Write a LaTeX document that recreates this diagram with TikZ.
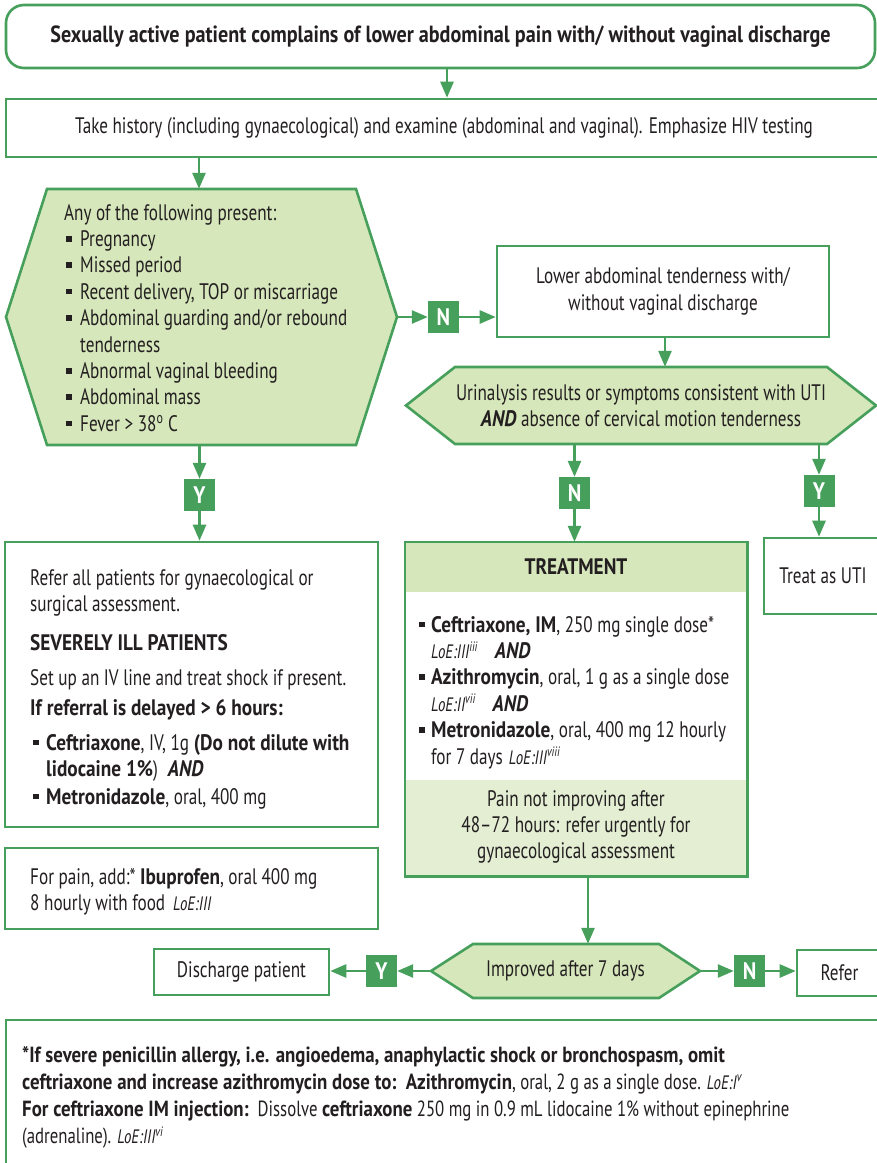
\documentclass[tikz,border=0pt]{standalone}
\usepackage{fontspec}
\setmainfont{PT Sans}[UprightFeatures={FakeStretch=0.765}, ItalicFeatures={FakeStretch=0.765}, BoldFeatures={FakeStretch=0.86}, BoldItalicFeatures={FakeStretch=0.86}]
\usetikzlibrary{arrows.meta,calc}
\definecolor{gr}{RGB}{70,160,92}
\definecolor{lf}{RGB}{214,231,187}
\definecolor{lf2}{RGB}{227,238,211}
\definecolor{tx}{RGB}{35,31,32}
\newcommand\bul[1][14bp]{\makebox[#1][l]{\raisebox{5bp}{\rule{5.5bp}{5.5bp}}}}
\newcommand\loe[1]{{\fontsize{19.5}{19.5}\selectfont\itshape #1}}
\begin{document}
\begin{tikzpicture}[x=1bp,y=-1bp,
  font=\fontsize{22.5}{26.5}\selectfont, text=tx,
  box/.style={draw=gr, line width=2.6bp, fill=white, inner sep=0},
  yn/.style={fill=gr, text=white, font=\fontsize{24}{24}\selectfont\bfseries, minimum width=31bp, minimum height=32bp, inner sep=0},
  arr/.style={draw=gr, line width=2.6bp, -{Triangle[length=16bp,width=13bp]}},
  txt/.style={inner sep=0, anchor=north west, align=left},
  hexa/.style={draw=gr, fill=lf, line width=2.6bp, line join=miter},
  area/.style={inner sep=0, draw=none}
]
\useasboundingbox (0,0) rectangle (877,1163);
\fill[white] (0,0) rectangle (877,1163);

% top
\node[box, rounded corners=18bp, minimum width=869bp, minimum height=63bp, font=\fontsize{23.5}{26.5}\selectfont\bfseries] (start) at (440.5,36.5) {Sexually active patient complains of lower abdominal pain with/ without vaginal discharge};
\node[box, minimum width=876bp, minimum height=58bp] (hist) at (444,128) {Take history (including gynaecological) and examine (abdominal and vaginal). Emphasize HIV testing};
\draw[arr] ([xshift=6.5bp]start.south) -- ([xshift=6.5bp]start.south |- hist.north);

% hexagon A
\filldraw[hexa] (6,317) -- (47,189) -- (356,189) -- (397,317) -- (356,445) -- (47,445) -- cycle;
\node[area, minimum width=391bp, minimum height=256bp] (hexA) at (201.5,317) {};
\draw[arr] ([xshift=-2.5bp]hexA.north |- hist.south) -- ([xshift=-2.5bp]hexA.north);
\node[txt] (hexAtxt) at (64,201.45) {\strut Any of the following present:\\
\hspace*{2bp}\bul Pregnancy\\
\hspace*{2bp}\bul Missed period\\
\hspace*{2bp}\bul Recent delivery, TOP or miscarriage\\
\hspace*{2bp}\bul Abdominal guarding and/or rebound\\
\hspace*{16bp}tenderness\\
\hspace*{2bp}\bul Abnormal vaginal bleeding\\
\hspace*{2bp}\bul Abdominal mass\\
\hspace*{2bp}\bul Fever > 38\textsuperscript{o} C};

% N to right
\node[yn] (nA) at (443.5,317) {N};
\node[box, minimum width=332bp, minimum height=91bp, align=center] (lower) at (663,291.5) {Lower abdominal tenderness with/\\without vaginal discharge};
\draw[arr] (hexA.east) -- (nA.west);
\draw[arr] (nA.east) -- (nA.east -| lower.west);

% hexagon B
\filldraw[hexa] (406,405.5) -- (455,367) -- (827,367) -- (876,405.5) -- (827,444) -- (455,444) -- cycle;
\node[area, minimum width=470bp, minimum height=77bp, align=center] (hexB) at (641,405.5) {Urinalysis results or symptoms consistent with UTI\\\textbf{\textit{AND}} absence of cervical motion tenderness};
\draw[arr] ([xshift=2bp]lower.south) -- ([xshift=2bp]lower.south |- hexB.north);

% treatment
\node[area, minimum width=342bp, minimum height=334bp] (treat) at (576,709) {};
\fill[lf] (treat.north west) rectangle ($(treat.north east)+(0,50)$);
\fill[lf2] ($(treat.south west)+(0,-96)$) rectangle (treat.south east);
\draw[gr, line width=2.6bp] (treat.north west) rectangle (treat.south east);
\node[font=\fontsize{22.5}{26.5}\selectfont\bfseries] (treathead) at (576,567) {TREATMENT};
\node[txt] (treatlist) at (419,613.45) {\strut\bul[12bp]\textbf{Ceftriaxone, IM}, 250 mg single dose*\\
\hspace*{12bp}\loe{LoE:III\textsuperscript{iii}}\hspace{17bp}\textbf{\textit{AND}}\\
\bul[12bp]\textbf{Azithromycin}, oral, 1 g as a single dose\\
\hspace*{12bp}\loe{LoE:II\textsuperscript{vii}}\hspace{17bp}\textbf{\textit{AND}}\\
\bul[12bp]\textbf{Metronidazole}, oral, 400 mg 12 hourly\\
\hspace*{12bp}for 7 days\hspace{6bp}\loe{LoE:III\textsuperscript{viii}}};
\node[align=center, inner sep=0] (treatfoot) at (576,827) {Pain not improving after\\48--72 hours: refer urgently for\\gynaecological assessment};

% UTI
\node[box, minimum width=118bp, minimum height=76bp] (uti) at (823,576) {Treat as UTI};

% N and Y below hexagon B
\node[yn] (nB) at (574.5,493) {N};
\node[yn] (yB) at (819,491) {Y};
\draw[arr] (hexB.south -| nB) -- (nB.north);
\draw[arr] (nB.south) -- (nB |- treat.north);
\draw[arr] (hexB.south -| yB) -- (yB.north);
\draw[arr] (yB.south) -- (yB |- uti.north);

% left refer box
\node[box, minimum width=373bp, minimum height=285bp] (refer) at (191.5,684.5) {};
\node[yn] (yA) at (199.5,495) {Y};
\draw[arr] ([xshift=-2bp]hexA.south) -- (yA.north);
\draw[arr] (yA.south) -- (yA |- refer.north);
\node[txt] (refertxt) at (30,566.45) {\strut Refer all patients for gynaecological or\\
surgical assessment.\\[12.5bp]
\textbf{SEVERELY ILL PATIENTS}\\[8.5bp]
Set up an IV line and treat shock if present.\\[3.5bp]
\textbf{If referral is delayed > 6 hours:}\\[8.5bp]
\hspace*{3bp}\bul[13bp]\textbf{Ceftriaxone}, IV, 1g \textbf{(Do not dilute with}\\
\hspace*{16bp}\textbf{lidocaine 1\%})\hspace{10bp}\textbf{\textit{AND}}\\[1.5bp]
\hspace*{3bp}\bul[13bp]\textbf{Metronidazole}, oral, 400 mg};

% ibuprofen
\node[box, minimum width=373bp, minimum height=81bp] (ibu) at (191.5,888.5) {};
\node[txt] (ibutxt) at (30,865.45) {\strut For pain, add:* \textbf{Ibuprofen}, oral 400 mg\\
8 hourly with food\hspace{8bp}\loe{LoE:III}};

% bottom row
\filldraw[hexa] (431,971) -- (473,944) -- (659,944) -- (700,971) -- (659,998) -- (473,998) -- cycle;
\node[area, minimum width=269bp, minimum height=54bp] (hexC) at (565.5,971) {Improved after 7 days};
\draw[arr] ([xshift=12bp]treat.south) -- ([xshift=12bp]treat.south |- hexC.north);
\node[yn] (yC) at (381.5,971) {Y};
\node[yn] (nC) at (749.5,971) {N};
\node[box, minimum width=175bp, minimum height=46bp] (dis) at (241.5,972) {Discharge patient};
\node[box, minimum width=85bp, minimum height=46bp] (referb) at (839.5,973) {Refer};
\draw[arr] (hexC.west) -- (yC.east);
\draw[arr] (yC.west) -- (yC.west -| dis.east);
\draw[arr] (hexC.east) -- (nC.west);
\draw[arr] (nC.east) -- (nC.east -| referb.west);

% footnote
\node[box, minimum width=876bp, minimum height=150bp] (foot) at (444,1095) {};
\node[txt, font=\fontsize{22}{27.3}\selectfont] (foottxt) at (22,1042.9) {\strut\textbf{*If severe penicillin allergy, i.e. angioedema, anaphylactic shock or bronchospasm, omit}\\
\textbf{ceftriaxone and increase azithromycin dose to:\ \ Azithromycin}, oral, 2 g as a single dose. \loe{LoE:I\textsuperscript{v}}\\
\textbf{For ceftriaxone IM injection:}\ \ Dissolve \textbf{ceftriaxone} 250 mg in 0.9 mL lidocaine 1\% without epinephrine\\
(adrenaline). \loe{LoE:III\textsuperscript{vi}}};
\end{tikzpicture}
\end{document}
